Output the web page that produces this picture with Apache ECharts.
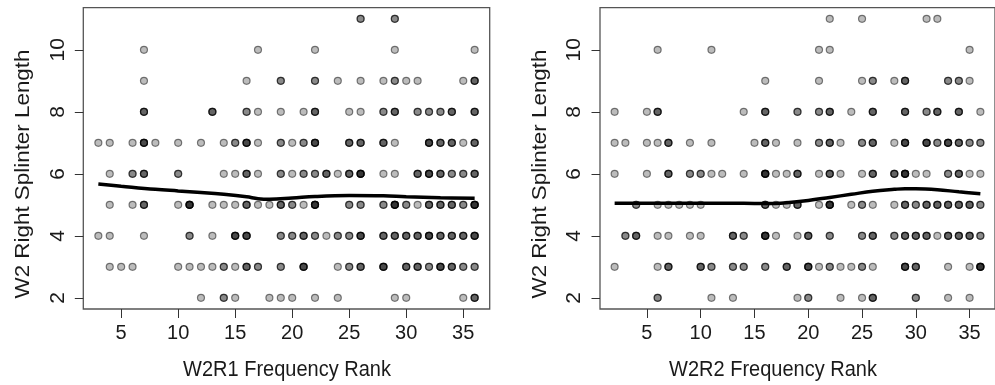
<!DOCTYPE html>
<html>
<head>
<meta charset="utf-8">
<script src="https://cdn.jsdelivr.net/npm/echarts@6/dist/echarts.min.js"></script>
<style>
  html, body { margin: 0; padding: 0; background: #ffffff; }
  #chart { width: 995px; height: 385px; }
</style>
</head>
<body>
<div id="chart"></div>
<script>
// Spots as [frequency rank, splinter length, observations at that spot]
const w2r1Spots = [
  [26,11,2],[29,11,2],
  [7,10,1],[17,10,1],[22,10,1],[29,10,1],[36,10,1],
  [7,9,1],[16,9,1],[19,9,2],[22,9,2],[24,9,1],[26,9,1],[28,9,1],[29,9,2],[30,9,1],[31,9,1],[35,9,1],[36,9,3],
  [7,8,3],[13,8,3],[16,8,2],[17,8,1],[19,8,1],[21,8,1],[22,8,3],[25,8,1],[26,8,1],[28,8,2],[29,8,3],[31,8,2],[32,8,2],[33,8,2],[34,8,3],[36,8,3],
  [3,7,1],[4,7,1],[6,7,1],[7,7,4],[8,7,1],[10,7,1],[12,7,1],[14,7,1],[15,7,2],[16,7,4],[17,7,1],[19,7,2],[20,7,1],[21,7,2],[22,7,4],[25,7,3],[26,7,3],[28,7,3],[29,7,1],[32,7,4],[33,7,3],[34,7,3],[35,7,1],[36,7,3],
  [4,6,1],[6,6,2],[7,6,3],[10,6,2],[14,6,1],[15,6,1],[16,6,3],[17,6,1],[19,6,2],[20,6,1],[21,6,2],[22,6,2],[23,6,3],[24,6,1],[25,6,3],[26,6,5],[28,6,1],[29,6,1],[31,6,3],[32,6,4],[33,6,3],[34,6,2],[35,6,2],[36,6,3],
  [4,5,1],[6,5,1],[7,5,3],[10,5,1],[11,5,5],[13,5,1],[14,5,1],[15,5,1],[16,5,3],[17,5,1],[18,5,1],[19,5,3],[20,5,2],[21,5,1],[22,5,5],[25,5,2],[26,5,2],[28,5,2],[29,5,5],[30,5,2],[31,5,1],[32,5,3],[33,5,3],[34,5,3],[35,5,2],[36,5,5],
  [3,4,1],[4,4,1],[7,4,1],[11,4,2],[13,4,1],[15,4,4],[16,4,4],[19,4,2],[20,4,2],[21,4,3],[22,4,2],[23,4,1],[24,4,2],[25,4,2],[26,4,4],[28,4,3],[29,4,3],[30,4,3],[31,4,3],[32,4,4],[33,4,3],[34,4,3],[35,4,3],[36,4,4],
  [4,3,1],[5,3,1],[6,3,1],[10,3,1],[11,3,1],[12,3,1],[13,3,1],[14,3,2],[15,3,1],[16,3,3],[17,3,2],[19,3,2],[21,3,4],[24,3,1],[25,3,2],[26,3,3],[28,3,4],[30,3,3],[31,3,3],[32,3,2],[33,3,4],[34,3,3],[35,3,2],[36,3,2],
  [12,2,1],[14,2,2],[15,2,1],[18,2,1],[19,2,1],[20,2,1],[22,2,1],[24,2,1],[29,2,1],[30,2,1],[35,2,1],[36,2,3]
];

const w2r2Spots = [
  [22,11,1],[25,11,1],[31,11,1],[32,11,1],
  [6,10,1],[11,10,1],[21,10,1],[22,10,1],[35,10,1],
  [16,9,1],[21,9,1],[25,9,1],[26,9,2],[28,9,1],[29,9,3],[33,9,2],[34,9,2],[35,9,1],
  [2,8,1],[5,8,1],[6,8,3],[14,8,1],[16,8,3],[19,8,2],[21,8,2],[22,8,3],[24,8,1],[26,8,3],[29,8,3],[31,8,2],[32,8,3],[34,8,3],[36,8,1],
  [2,7,1],[3,7,1],[5,7,1],[6,7,1],[7,7,3],[9,7,1],[11,7,1],[15,7,1],[16,7,3],[17,7,1],[19,7,1],[21,7,2],[22,7,3],[23,7,1],[25,7,2],[26,7,3],[28,7,1],[29,7,4],[31,7,4],[32,7,2],[33,7,4],[34,7,3],[35,7,2],[36,7,2],
  [2,6,1],[5,6,1],[7,6,3],[9,6,2],[10,6,2],[11,6,1],[12,6,1],[14,6,1],[16,6,5],[17,6,1],[18,6,1],[19,6,3],[21,6,1],[22,6,3],[23,6,1],[25,6,1],[26,6,3],[28,6,3],[29,6,5],[30,6,1],[31,6,1],[33,6,2],[34,6,3],[35,6,1],[36,6,1],
  [4,5,2],[6,5,1],[7,5,1],[8,5,1],[9,5,1],[10,5,1],[16,5,3],[17,5,1],[18,5,1],[19,5,3],[21,5,1],[22,5,5],[24,5,1],[25,5,2],[26,5,1],[28,5,1],[29,5,3],[30,5,2],[31,5,3],[32,5,3],[33,5,3],[34,5,3],[35,5,3],[36,5,2],
  [3,4,2],[4,4,3],[6,4,1],[7,4,1],[9,4,1],[10,4,1],[13,4,3],[14,4,2],[16,4,5],[17,4,1],[19,4,1],[20,4,3],[22,4,2],[25,4,2],[26,4,3],[28,4,2],[29,4,3],[30,4,3],[31,4,3],[32,4,1],[33,4,3],[34,4,3],[35,4,3],[36,4,2],
  [2,3,1],[6,3,1],[7,3,3],[10,3,3],[11,3,2],[13,3,2],[14,3,2],[16,3,2],[18,3,3],[20,3,4],[21,3,1],[22,3,2],[23,3,1],[24,3,1],[25,3,2],[26,3,1],[29,3,4],[30,3,3],[33,3,1],[35,3,1],[36,3,5],
  [6,2,2],[11,2,1],[13,2,1],[19,2,1],[20,2,2],[23,2,1],[25,2,1],[26,2,3],[30,2,2],[33,2,1],[35,2,1]
];

// Smoothed trend through each panel
const w2r1SmoothRank   = [3, 5, 8, 10, 12, 14, 16, 17, 18, 20, 22, 25, 28, 30, 33, 36];
const w2r1SmoothLength = [5.67, 5.6, 5.5, 5.45, 5.4, 5.34, 5.26, 5.2, 5.18, 5.22, 5.27, 5.3, 5.29, 5.26, 5.23, 5.21];
const w2r2SmoothRank   = [2, 5, 8, 11, 14, 16, 18, 20, 22, 24, 26, 28, 29, 30, 32, 34, 36];
const w2r2SmoothLength = [5.05, 5.05, 5.05, 5.05, 5.05, 5.04, 5.07, 5.14, 5.24, 5.34, 5.44, 5.5, 5.52, 5.52, 5.49, 5.42, 5.36];

const rankTicks   = [5, 10, 15, 20, 25, 30, 35];
const lengthTicks = [2, 4, 6, 8, 10];

const xTitles = ['W2R1 Frequency Rank', 'W2R2 Frequency Rank'];
const yTitle  = 'W2 Right Splinter Length';

const FONT = '"Liberation Sans", Arial, Helvetica, sans-serif';
const INK = '#1a1a1a';

// one plotted observation per count, stacked translucently
function expand(spots) {
  const out = [];
  spots.forEach(([r, l, n]) => { for (let i = 0; i < n; i++) out.push([r, l]); });
  return out;
}
function zip(a, b) { return a.map((v, i) => [v, b[i]]); }

function xAxisFor(gridIndex, min, max) {
  return {
    type: 'value', gridIndex, min, max,
    axisLine: { show: false },
    splitLine: { show: false },
    axisTick: { show: true, inside: false, length: 9, customValues: rankTicks,
                lineStyle: { color: '#333', width: 1 } },
    axisLabel: { customValues: rankTicks, fontSize: 20, color: INK, margin: 14, fontFamily: FONT }
  };
}
function yAxisFor(gridIndex) {
  return {
    type: 'value', gridIndex, min: 1.64, max: 11.36,
    axisLine: { show: false },
    splitLine: { show: false },
    axisTick: { show: true, inside: false, length: 8.5, customValues: lengthTicks,
                lineStyle: { color: '#333', width: 1 } },
    axisLabel: { customValues: lengthTicks, rotate: 90, fontSize: 21, color: INK, margin: 15, fontFamily: FONT }
  };
}

const pointStyle = {
  color: 'rgba(0,0,0,0.33)',
  borderColor: 'rgba(0,0,0,0.62)',
  borderWidth: 1.2
};

function xTitle(text, cx) {
  return { type: 'text', x: cx, y: 370, scaleY: 1.1,
           style: { text, font: '20px ' + FONT, fill: INK, align: 'center', verticalAlign: 'middle' } };
}
function yTitleAt(cx) {
  // scaleX stretches along the reading direction of the rotated label
  return { type: 'text', x: cx, y: 174, rotation: Math.PI / 2, scaleX: 1.12,
           style: { text: yTitle, font: '20px ' + FONT, fill: INK, align: 'center', verticalAlign: 'middle' } };
}

const chart = echarts.init(document.getElementById('chart'), null, { renderer: 'canvas' });
chart.setOption({
  animation: false,
  backgroundColor: '#ffffff',
  grid: [
    { left: 83.3, top: 7.7, width: 406.4, height: 301.3, show: true, borderColor: '#555', borderWidth: 1.3, backgroundColor: 'transparent' },
    { left: 600, top: 7.7, width: 405, height: 301.3, show: true, borderColor: '#555', borderWidth: 1.3, backgroundColor: 'transparent' }
  ],
  xAxis: [xAxisFor(0, 1.68, 37.32), xAxisFor(1, 0.64, 37.36)],
  yAxis: [yAxisFor(0), yAxisFor(1)],
  series: [
    { type: 'scatter', xAxisIndex: 0, yAxisIndex: 0, data: expand(w2r1Spots), symbol: 'circle', symbolSize: 7, itemStyle: pointStyle, z: 2 },
    { type: 'scatter', xAxisIndex: 1, yAxisIndex: 1, data: expand(w2r2Spots), symbol: 'circle', symbolSize: 7, itemStyle: pointStyle, z: 2 },
    { type: 'line', xAxisIndex: 0, yAxisIndex: 0, data: zip(w2r1SmoothRank, w2r1SmoothLength), showSymbol: false, smooth: 0.4,
      lineStyle: { color: '#000', width: 3.5 }, z: 3 },
    { type: 'line', xAxisIndex: 1, yAxisIndex: 1, data: zip(w2r2SmoothRank, w2r2SmoothLength), showSymbol: false, smooth: 0.4,
      lineStyle: { color: '#000', width: 3.5 }, z: 3 }
  ],
  graphic: [xTitle(xTitles[0], 287), xTitle(xTitles[1], 773), yTitleAt(23.7), yTitleAt(540.4)]
});
</script>
</body>
</html>
